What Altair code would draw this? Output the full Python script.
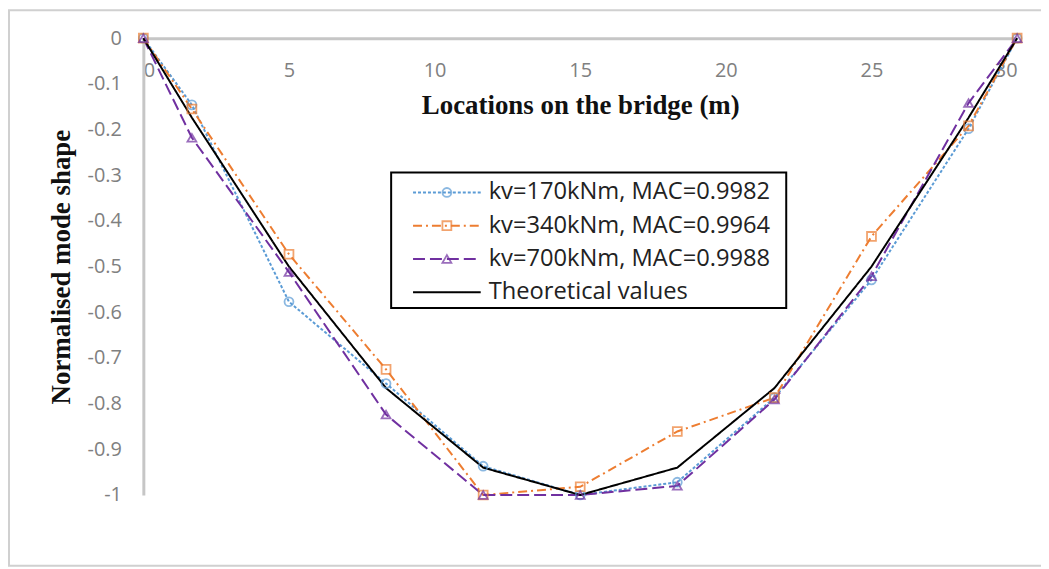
import altair as alt
import pandas as pd

# ---- data ----
locations = [0, 1.667, 5, 8.333, 11.667, 15, 18.333, 21.667, 25, 28.333, 30]
kv170 = [0, -0.146, -0.577, -0.756, -0.937, -1.0, -0.972, -0.787, -0.529, -0.198, 0]
kv340 = [0, -0.155, -0.473, -0.725, -1.0, -0.982, -0.861, -0.787, -0.434, -0.192, 0]
kv700 = [0, -0.218, -0.512, -0.824, -1.0, -1.0, -0.980, -0.791, -0.521, -0.142, 0]
theory = [0, -0.174, -0.500, -0.766, -0.940, -1.0, -0.940, -0.766, -0.500, -0.174, 0]

series_names = ["kv=170kNm, MAC=0.9982", "kv=340kNm, MAC=0.9964",
                "kv=700kNm, MAC=0.9988", "Theoretical values"]
series_colors = ["#5B9BD5", "#ED7D31", "#7030A0", "#000000"]
series_dash = [[3, 2], [9, 4, 2, 4], [12, 5], [1, 0]]
series_shapes = ["circle", "square", "triangle-up"]
x_ticks = [0, 5, 10, 15, 20, 25, 30]
y_ticks = [0, -0.1, -0.2, -0.3, -0.4, -0.5, -0.6, -0.7, -0.8, -0.9, -1]

W, H = 878, 459

rows = []
for name, vals in zip(series_names, [kv170, kv340, kv700, theory]):
    for x, y in zip(locations, vals):
        rows.append({"series": name, "x": x, "y": y})
df = pd.DataFrame(rows)
df_pts = df[df.series != series_names[3]]

color = alt.Color("series:N", scale=alt.Scale(domain=series_names, range=series_colors), legend=None)
dash = alt.StrokeDash("series:N", scale=alt.Scale(domain=series_names, range=series_dash), legend=None)
shape = alt.Shape("series:N", scale=alt.Scale(domain=series_names[:3], range=series_shapes), legend=None)

axis_common = dict(ticks=False, grid=False, domainColor="#c6c6c6", domainWidth=3,
                   labelColor="#808080", labelFontSize=20, labelFont="Open Sans",
                   titleFont="Liberation Serif", titleFontSize=27, titleFontWeight="bold",
                   titleColor="#111111")
xenc = alt.X("x:Q", scale=alt.Scale(domain=[0, 30], nice=False),
             axis=alt.Axis(values=x_ticks, orient="bottom", offset=-H,
                           title="Locations on the bridge (m)",
                           labelPadding=22, titlePadding=13, **axis_common))
yenc = alt.Y("y:Q", scale=alt.Scale(domain=[-1, 0], nice=False),
             axis=alt.Axis(values=y_ticks, orient="left", title="Normalised mode shape",
                           labelExpr="datum.value == 0 ? '0' : (datum.value < -0.99 ? '-1' : '-' + format(abs(datum.value), '.1f'))",
                           labelPadding=22, titlePadding=12, **axis_common))

one = pd.DataFrame({"a": [0]})
border = alt.Chart(one).mark_rect(
    fillOpacity=0, stroke="#d0d0d0", strokeWidth=2).encode(
    x=alt.value(-135), x2=alt.value(W + 60), y=alt.value(-28), y2=alt.value(530))

lines = alt.Chart(df).mark_line(strokeWidth=2).encode(
    x=xenc, y=yenc, color=color, strokeDash=dash, detail="series:N")
points = alt.Chart(df_pts).mark_point(filled=False, size=80, strokeWidth=1.8).encode(
    x="x:Q", y="y:Q", color=color, shape=shape)

# manual legend
leg_box = alt.Chart(one).mark_rect(
    fill="white", stroke="#000000", strokeWidth=2).encode(
    x=alt.value(249), x2=alt.value(646), y=alt.value(135), y2=alt.value(271))
leg_layers = [leg_box]
leg_df = pd.DataFrame({"series": series_names})
for i, name in enumerate(series_names):
    d = leg_df[leg_df.series == name]
    ypx = 155 + i * 33.4
    leg_layers.append(alt.Chart(d).mark_rule(strokeWidth=2).encode(
        x=alt.value(271), x2=alt.value(339), y=alt.value(ypx), color=color, strokeDash=dash))
    if i < 3:
        leg_layers.append(alt.Chart(d).mark_point(filled=False, size=80, strokeWidth=1.8).encode(
            x=alt.value(305), y=alt.value(ypx), color=color, shape=shape))
    leg_layers.append(alt.Chart(d).mark_text(align="left", baseline="middle", fontSize=23.8,
                                            font="Open Sans", color="#222222").encode(
        x=alt.value(347), y=alt.value(ypx), text="series:N"))

chart = alt.layer(border, lines, points, *leg_layers).properties(
    width=W, height=H,
    autosize=alt.AutoSizeParams(type="none"),
    padding={"left": 136, "top": 29, "right": 24, "bottom": 72},
).configure_view(stroke=None)

chart.save("out.html", embed_options={"renderer": "svg", "actions": False})
